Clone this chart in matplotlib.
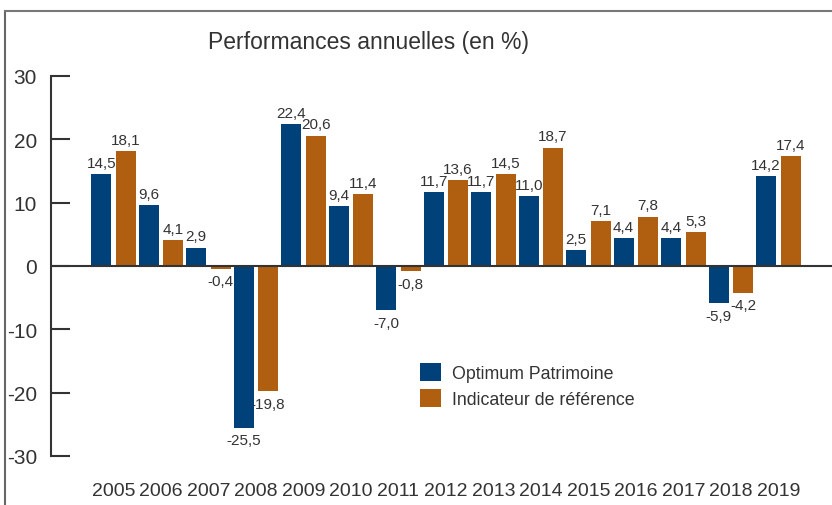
import numpy as np
import matplotlib
matplotlib.use("Agg")
import matplotlib.pyplot as plt
from matplotlib.lines import Line2D

plt.rcParams['font.family'] = ['Liberation Sans', 'DejaVu Sans']

# Data
years = ["2005", "2006", "2007", "2008", "2009", "2010", "2011", "2012",
         "2013", "2014", "2015", "2016", "2017", "2018", "2019"]
optimum = [14.5, 9.6, 2.9, -25.5, 22.4, 9.4, -7.0, 11.7, 11.7, 11.0, 2.5, 4.4, 4.4, -5.9, 14.2]
reference = [18.1, 4.1, -0.4, -19.8, 20.6, 11.4, -0.8, 13.6, 14.5, 18.7, 7.1, 7.8, 5.3, -4.2, 17.4]
series_names = ["Optimum Patrimoine", "Indicateur de référence"]
yticks = [-30, -20, -10, 0, 10, 20, 30]

blue = "#00417a"
orange = "#b05f10"
txt = "#333333"

W, H = 832, 506
fig = plt.figure(figsize=(W / 100, H / 100), dpi=100)
ax = fig.add_axes([51 / W, (H - 457) / H, 1 - 51 / W, (457 - 77) / H])

x = np.arange(len(years))
w = 0.42
off = 0.257
b1 = ax.bar(x - off, optimum, w, color=blue, label=series_names[0], zorder=2)
b2 = ax.bar(x + off, reference, w, color=orange, label=series_names[1], zorder=2)

def fmt(v):
    return f"{v:.1f}".replace(".", ",")

for bars, vals in ((b1, optimum), (b2, reference)):
    for rect, v in zip(bars, vals):
        cx = rect.get_x() + rect.get_width() / 2
        if v >= 0:
            ax.annotate(fmt(v), (cx, v), xytext=(0, 3), textcoords="offset points",
                        ha="center", va="bottom", fontsize=11, color=txt)
        else:
            ax.annotate(fmt(v), (cx, v), xytext=(0, -4), textcoords="offset points",
                        ha="center", va="top", fontsize=11, color=txt)

ax.axhline(0, color="#333333", lw=1.5, zorder=3)

ax.set_xlim(-1.316, 15.13)
ax.set_ylim(-30, 30)
ax.set_yticks(yticks)
ax.set_yticklabels([str(t) for t in yticks])
ax.set_xticks(x)
ax.set_xticklabels(years)
ax.tick_params(axis="y", direction="in", length=14, width=1.5, color="#333333",
               labelsize=15, labelcolor=txt, pad=10)
ax.tick_params(axis="x", length=0, labelsize=14, labelcolor=txt, pad=19)

for s in ("top", "right", "bottom"):
    ax.spines[s].set_visible(False)
ax.spines["left"].set_color("#333333")
ax.spines["left"].set_linewidth(1.5)

leg = ax.legend(loc="upper left", bbox_to_anchor=(404 / W, (H - 348) / H),
                bbox_transform=fig.transFigure, frameon=False, fontsize=12.8,
                handlelength=1.2, handleheight=1.2, handletextpad=0.6,
                labelspacing=0.4)
for t in leg.get_texts():
    t.set_color(txt)

fig.text(368 / W, 1 - 42 / H, "Performances annuelles (en %)", ha="center",
         va="center", fontsize=16.5, color=txt)

# outer frame (left and top edges)
fig.add_artist(Line2D([5 / W, 5 / W], [0, 1 - 12 / H], transform=fig.transFigure,
                      color="#666666", lw=1.5))
fig.add_artist(Line2D([5 / W, 1], [1 - 12 / H, 1 - 12 / H], transform=fig.transFigure,
                      color="#777777", lw=1.5))

fig.savefig("out.png", dpi=100)
